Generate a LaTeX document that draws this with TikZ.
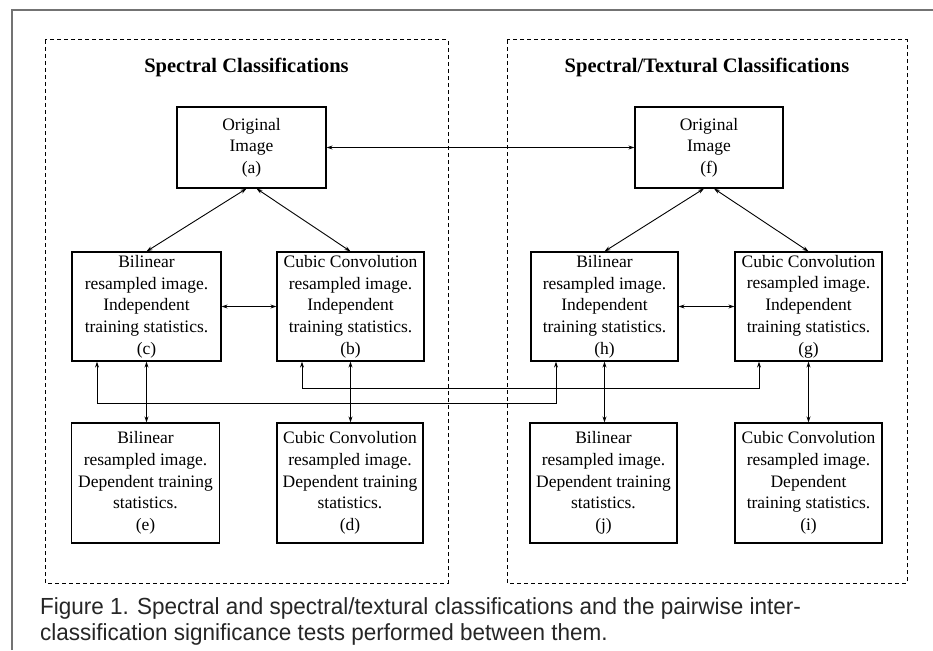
\documentclass[tikz,border=0pt]{standalone}
\usepackage{fontspec}
\setmainfont{Liberation Serif}
\newfontfamily\capfont[FakeStretch=0.965]{Liberation Sans}
\usetikzlibrary{arrows.meta}
\begin{document}
\begin{tikzpicture}[x=1pt,y=-1pt,
  box/.style={draw, line width=1.2pt, inner sep=0pt, align=center,
    font=\fontsize{17.5}{21.7}\selectfont, minimum height=109pt},
  lowbox/.style={box, minimum height=120pt},
  conn/.style={line width=0.9pt, {Stealth[length=6pt,width=4pt]}-{Stealth[length=6pt,width=4pt]}},
  group/.style={draw, line width=1pt, dash pattern=on 4pt off 3pt},
  title/.style={font=\fontsize{20.5}{24}\selectfont\bfseries},
  captext/.style={anchor=base west, inner sep=0pt, font=\capfont\fontsize{23.3}{26}\selectfont, text=black!85}]
\useasboundingbox (0,0) rectangle (933,650);
\fill[white] (0,0) rectangle (933,650);
% outer frame
\draw[black!55, line width=1.6pt] (12,650) -- (12,10) -- (933,10);
% groups
\draw[group] (45,40) rectangle (448,583);
\draw[group] (507,40) rectangle (907,583);
\node[title] (t1) at (246.5,67) {Spectral Classifications};
\node[title] (t2) at (707,67) {Spectral/Textural Classifications};
% top boxes
\node[box, minimum width=149pt, minimum height=81pt] (a) at (251.5,147.5) {Original\\Image\\(a)};
\node[box, minimum width=148pt, minimum height=81pt] (f) at (709,147.5) {Original\\Image\\(f)};
% middle
\node[box, minimum width=149pt] (c) at (146.5,306.5) {Bilinear\\resampled image.\\Independent\\training statistics.\\(c)};
\node[box, minimum width=147pt] (b) at (350.5,306.5) {Cubic Convolution\\resampled image.\\Independent\\training statistics.\\(b)};
\node[box, minimum width=147pt] (h) at (604.5,306.5) {Bilinear\\resampled image.\\Independent\\training statistics.\\(h)};
\node[box, minimum width=147pt] (g) at (808.5,306.5) {Cubic Convolution\\resampled image.\\Independent\\training statistics.\\(g)};
% bottom
\node[lowbox, minimum width=148pt] (e) at (145.5,483) {Bilinear\\resampled image.\\Dependent training\\statistics.\\(e)};
\node[lowbox, minimum width=146pt] (d) at (350,483) {Cubic Convolution\\resampled image.\\Dependent training\\statistics.\\(d)};
\node[lowbox, minimum width=147pt] (j) at (603.5,483) {Bilinear\\resampled image.\\Dependent training\\statistics.\\(j)};
\node[lowbox, minimum width=147pt] (i) at (808.5,483) {Cubic Convolution\\resampled image.\\Dependent\\training statistics.\\(i)};
% connectors
\draw[conn] (a.east) -- (f.west);
\draw[conn] ([xshift=-5pt]a.south) -- (c.north);
\draw[conn] ([xshift=5pt]a.south) -- (b.north);
\draw[conn] ([xshift=-5pt]f.south) -- (h.north);
\draw[conn] ([xshift=5pt]f.south) -- (g.north);
\draw[conn] (c.east) -- (b.west);
\draw[conn] (h.east) -- (g.west);
\draw[conn] (c.south) -- (c.south |- e.north);
\draw[conn] (b.south) -- (b.south |- d.north);
\draw[conn] (h.south) -- (h.south |- j.north);
\draw[conn] (g.south) -- (g.south |- i.north);
\coordinate (lowbus) at (0,403);
\coordinate (highbus) at (0,388);
\coordinate (c1) at ([xshift=-49.5pt]c.south);
\coordinate (h1) at ([xshift=-48.5pt]h.south);
\coordinate (b1) at ([xshift=-48.5pt]b.south);
\coordinate (g1) at ([xshift=-49.5pt]g.south);
\draw[conn] (c1) -- (c1 |- lowbus) -| (h1);
\draw[conn] (b1) -- (b1 |- highbus) -| (g1);
% caption
\node[captext] (cap1) at (40,614) {Figure 1. Spectral and spectral/textural classifications and the pairwise inter-};
\node[captext] (cap2) at (40,640) {classification significance tests performed between them.};
\end{tikzpicture}
\end{document}
